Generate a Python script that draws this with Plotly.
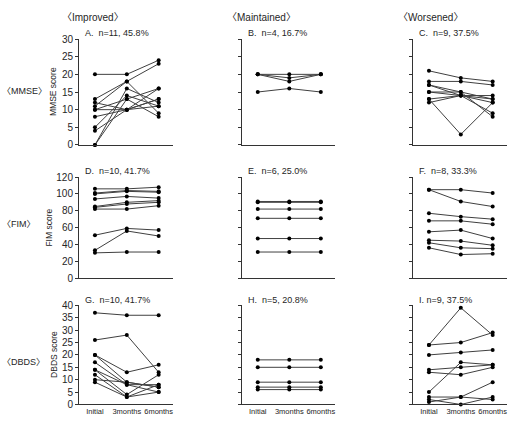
import plotly.graph_objects as go

categories = ["Initial", "3months", "6months"]

mmse_improved = [[20, 20, 24], [13, 18, 23], [12, 10, 16], [11, 18, 9], [10, 13, 16],
                 [10, 10, 13], [8, 10, 11], [5, 14, 11], [4, 10, 13], [0, 16, 12], [0, 13, 8]]
mmse_maintained = [[20, 20, 20], [20, 19, 20], [20, 18, 20], [15, 16, 15]]
mmse_worsened = [[21, 19, 18], [18, 18, 17], [17, 15, 8], [17, 14, 9], [15, 15, 13],
                 [15, 14, 14], [13, 14, 12], [13, 3, 12], [12, 14, 13]]

fim_improved = [[106, 106, 108], [101, 104, 103], [100, 103, 102], [94, 97, 95], [85, 90, 92],
                [84, 88, 90], [82, 82, 86], [51, 59, 57], [33, 56, 50], [30, 31, 31]]
fim_maintained = [[91, 91, 91], [90, 90, 90], [82, 82, 82], [71, 71, 71], [47, 47, 47], [31, 31, 31]]
fim_worsened = [[105, 105, 101], [105, 91, 85], [77, 73, 70], [68, 68, 64], [55, 57, 47],
                [45, 44, 39], [42, 36, 35], [36, 28, 29]]

dbds_improved = [[37, 36, 36], [26, 28, 13], [20, 13, 16], [20, 9, 7], [17, 8, 5],
                 [14, 8, 8], [14, 4, 12], [12, 3, 8], [10, 9, 7], [9, 3, 5]]
dbds_maintained = [[18, 18, 18], [15, 15, 15], [9, 9, 9], [7, 7, 7], [6, 6, 6]]
dbds_worsened = [[24, 39, 28], [24, 25, 29], [20, 21, 22], [14, 15, 16], [13, 12, 15],
                 [5, 17, 16], [3, 3, 9], [2, 0, 3], [1, 3, 2]]

panel_labels = ["A.  n=11, 45.8%", "B.  n=4, 16.7%", "C.  n=9, 37.5%",
                "D.  n=10, 41.7%", "E.  n=6, 25.0%", "F.  n=8, 33.3%",
                "G.  n=10, 41.7%", "H.  n=5, 20.8%", "I. n=9, 37.5%"]
col_headers = ["〈Improved〉", "〈Maintained〉", "〈Worsened〉"]
row_headers = ["〈MMSE〉", "〈FIM〉", "〈DBDS〉"]
y_titles = ["MMSE score", "FIM score", "DBDS score"]
y_ranges = [[0, 30], [0, 120], [0, 40]]
y_dticks = [5, 20, 5]

panels = [[mmse_improved, mmse_maintained, mmse_worsened],
          [fim_improved, fim_maintained, fim_worsened],
          [dbds_improved, dbds_maintained, dbds_worsened]]

W, H = 509, 427
col_px = [(79, 173), (242, 335), (413, 507)]
row_px = [(34, 143), (176, 280), (308, 410)]

FONT = "Liberation Sans, Noto Sans CJK JP, sans-serif"
TXT = "#262626"

fig = go.Figure()
layout = dict(width=W, height=H, margin=dict(l=0, r=0, t=0, b=0),
              paper_bgcolor="white", plot_bgcolor="white", showlegend=False,
              font=dict(family=FONT, size=10, color=TXT))
annotations = []

for r in range(3):
    for c in range(3):
        idx = r * 3 + c + 1
        xa = "xaxis" if idx == 1 else f"xaxis{idx}"
        ya = "yaxis" if idx == 1 else f"yaxis{idx}"
        xref = "x" if idx == 1 else f"x{idx}"
        yref = "y" if idx == 1 else f"y{idx}"
        x0, x1 = col_px[c]
        y0, y1 = row_px[r]
        layout[xa] = dict(domain=[x0 / W, x1 / W], range=[-0.5, 2.45], anchor=yref,
                          showline=True, linecolor="#333", linewidth=1, showgrid=False,
                          zeroline=False, ticks="", tickangle=0,
                          tickvals=[0, 1, 2], ticktext=categories,
                          showticklabels=(r == 2), tickfont=dict(size=7.5, color=TXT))
        layout[ya] = dict(domain=[1 - y1 / H, 1 - y0 / H], range=y_ranges[r], anchor=xref,
                          dtick=y_dticks[r], showline=True, linecolor="#333", linewidth=1,
                          showgrid=False, zeroline=False, ticks="outside", ticklen=3,
                          tickcolor="#333", showticklabels=(c == 0),
                          tickfont=dict(size=10, color=TXT))
        for series in panels[r][c]:
            fig.add_trace(go.Scatter(x=[0, 1, 2], y=series, xaxis=xref, yaxis=yref,
                                     mode="lines+markers", cliponaxis=False,
                                     line=dict(color="#404040", width=1),
                                     marker=dict(color="black", size=4)))
        annotations.append(dict(text=panel_labels[idx - 1], xref="paper", yref="paper",
                                x=(x0 + 4) / W, y=1 - (y0 - 6) / H, xanchor="left",
                                yanchor="middle", showarrow=False,
                                font=dict(size=9, color=TXT)))

col_lefts = [60, 225, 396]
for c in range(3):
    annotations.append(dict(text=col_headers[c], xref="paper", yref="paper",
                            x=col_lefts[c] / W, y=1 - 12 / H, xanchor="left",
                            yanchor="middle", showarrow=False,
                            font=dict(size=10, color=TXT)))

row_centers = [87, 224, 366]
for r in range(3):
    annotations.append(dict(text=row_headers[r], xref="paper", yref="paper",
                            x=0, y=1 - row_centers[r] / H, xanchor="left",
                            yanchor="middle", showarrow=False,
                            font=dict(size=9, color=TXT)))

ytitle_x = [53, 49, 54]
for r in range(3):
    y0, y1 = row_px[r]
    annotations.append(dict(text=y_titles[r], xref="paper", yref="paper",
                            x=ytitle_x[r] / W, y=1 - ((y0 + y1) / 2) / H, xanchor="center",
                            yanchor="middle", showarrow=False, textangle=-90,
                            font=dict(size=8.5, color=TXT)))

layout["annotations"] = annotations
fig.update_layout(**layout)
fig.write_html("out.html")
